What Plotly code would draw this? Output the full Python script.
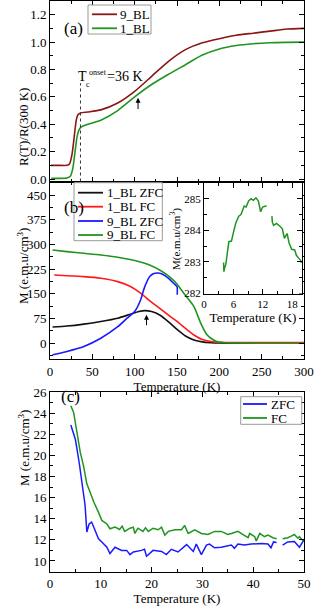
import plotly.graph_objects as go

# ---------------- data ----------------
# panel (a): R(T)/R(300 K)
T_a9 = [1.5, 10, 20, 23, 26, 29, 31, 33, 36, 45, 60, 80, 100, 120, 140, 160, 180, 200, 220, 240, 260, 280, 300]
R_a9 = [0.10, 0.10, 0.10, 0.11, 0.18, 0.33, 0.43, 0.47, 0.483, 0.49, 0.505, 0.555, 0.64, 0.75, 0.86, 0.945, 0.995, 1.025, 1.05, 1.065, 1.08, 1.095, 1.10]
T_a1 = [1.5, 10, 20, 24, 27, 30, 32, 34, 37, 45, 60, 80, 100, 120, 140, 160, 180, 200, 220, 240, 260, 280, 300]
R_a1 = [0.005, 0.005, 0.008, 0.02, 0.08, 0.22, 0.31, 0.355, 0.38, 0.40, 0.43, 0.50, 0.60, 0.69, 0.765, 0.835, 0.905, 0.95, 0.975, 0.988, 0.995, 0.998, 1.0]
TC_ONSET = 36

# panel (b): M(T)
T_b1z = [3, 20, 40, 60, 80, 95, 105, 112, 120, 130, 140, 150, 160, 170, 180, 190, 200, 220, 250, 300]
M_b1z = [49, 52, 58, 66, 76, 88, 96, 99, 96, 85, 65, 42, 22, 10, 4, 1.5, 0.5, 0, 0, 0]
T_b1f = [5, 20, 40, 60, 80, 95, 107, 119, 130, 140, 150, 160, 170, 180, 190, 200, 220, 250, 300]
M_b1f = [207, 205, 202, 197, 187, 172, 152, 126, 105, 85, 66, 45, 25, 11, 5, 3, 2, 2, 2]
T_b9z = [3, 20, 40, 60, 80, 91, 100, 107, 111, 115, 118, 122, 128, 134, 140, 146, 150, 150.3]
M_b9z = [-35, -25, -10, 15, 50, 76, 96, 131, 165, 190, 203, 211, 213, 208, 197, 182, 172, 147]
T_b9f = [3, 20, 40, 60, 80, 100, 119, 131, 142, 150, 155, 160, 170, 178, 185, 190, 197, 205, 217, 250, 300]
M_b9f = [283, 278, 273, 268, 261, 251, 236, 220, 200, 180, 162, 145, 111, 61, 27, 15, 5, 2, 0.5, 0, 0]

# inset of (b): 9_BL FC at low T
T_in = [4.0, 4.06, 4.2, 4.46, 5.07, 5.6, 6.0, 6.5, 7.1, 7.55, 8.2, 8.6, 9.1, 9.6, 10.1, 10.6, 11.1, 11.55, 11.96, 12.43, 12.77,
        None,
        13.86, 13.95, 14.2, 14.8, 15.5, 16.0, 16.4, 16.96, 17.37, 17.9, 18.5, 18.86, 19.3, 19.7, 19.9]
M_in = [282.98, 282.69, 282.8, 282.93, 283.64, 283.66, 283.93, 284.24, 284.45, 284.5, 284.77, 284.74, 284.93, 285.0, 284.95, 285.03, 284.93, 284.59, 284.74, 284.77, 284.78,
        None,
        284.45, 284.26, 284.16, 284.22, 284.13, 284.05, 283.75, 283.9, 283.6, 283.4, 283.38, 283.21, 283.12, 283.05, 282.97]

# panel (c)
T_cz = [4.1, 5.0, 5.75, 6.4, 6.9, 7.25, 7.7, 8.2, 8.9, 9.55, 10.2, 11.2, 11.8, 12.8, 14.1, 15.1, 15.75, 16.4, 18.0, 18.6, 19.0, 19.6, 20.3,
        21.96, 22.9, 23.9, 25.2, 26.9, 28.2, 28.8, 29.8, 30.8, 31.4, 32.4, 33.7, 35.7, 36.3, 37.0, 38.3, 39.6, 41.6, 42.9, 43.5, 44.0, 44.6,
        None, 45.8, 46.8, 48.1, 49.1, 50.0]
M_cz = [22.87, 21.5, 19.3, 17.1, 15.3, 12.74, 13.5, 13.68, 12.9, 12.1, 11.8, 11.3, 10.7, 11.3, 11.0, 11.0, 10.6, 10.85, 11.0, 11.1, 10.45, 10.7, 11.0,
        10.9, 10.6, 11.1, 10.85, 11.55, 10.9, 11.6, 10.6, 11.5, 11.6, 11.25, 11.3, 11.5, 11.2, 11.6, 11.5, 11.6, 11.65, 11.6, 11.25, 11.8, 11.75,
        None, 11.5, 11.8, 11.85, 11.3, 12.0]
T_cf = [4.1, 4.65, 5.3, 5.95, 6.6, 7.25, 7.9, 8.6, 9.55, 10.2, 11.2, 11.8, 12.8, 13.7, 14.2, 14.7, 15.75, 16.4, 16.7, 17.3, 18.3, 18.8, 19.35,
        20.3, 21.3, 21.96, 22.6, 23.3, 24.6, 25.9, 26.5, 27.2, 28.5, 29.8, 31.1, 32.4, 33.7, 35.0, 35.7, 37.0, 38.0, 39.0, 39.3, 40.3, 40.6,
        41.3, 42.2, 42.9, 43.9, 44.6, None, 45.8, 46.8, 47.5, 48.1, 48.8, 49.1, 49.8]
M_cf = [24.7, 24.06, 22.2, 20.3, 19.0, 17.3, 16.5, 15.6, 14.6, 13.84, 13.5, 13.05, 13.2, 12.98, 13.3, 12.8, 13.1, 13.2, 12.6, 13.1, 12.8, 13.15, 12.8,
        13.1, 12.95, 13.2, 12.45, 12.8, 12.95, 12.95, 13.37, 12.6, 12.95, 12.6, 12.5, 12.8, 12.8, 12.5, 12.6, 12.8, 12.5, 12.2, 12.6, 12.3, 11.9,
        12.6, 12.3, 12.45, 12.2, 12.1, None, 12.1, 12.2, 12.35, 12.5, 12.15, 12.3, 11.9]

# legends
LEG_A = ["9_BL", "1_BL"]
LEG_B = ["1_BL ZFC", "1_BL FC", "9_BL ZFC", "9_BL FC"]
LEG_C = ["ZFC", "FC"]

DARKRED = "#8c1515"
GREEN = "#1f951f"
RED = "#ff1a1a"
BLUE = "#1a1aff"
BLACK = "#111111"
FONT = "Liberation Serif"

W, H = 316, 606
def px(x):
    return x / W
def py(y):
    return 1 - y / H

fig = go.Figure()

def line(x, y, color, xa, ya, w=1.6, smooth=True):
    fig.add_trace(go.Scatter(
        x=x, y=y, mode="lines", xaxis=xa, yaxis=ya, showlegend=False,
        connectgaps=False, hoverinfo="skip",
        line=dict(color=color, width=w, shape="spline" if smooth else "linear", smoothing=0.6 if smooth else None)))

# (a)
line(T_a9, R_a9, DARKRED, "x", "y")
line(T_a1, R_a1, GREEN, "x", "y")
# (b)
line(T_b1z, M_b1z, BLACK, "x2", "y2")
line(T_b1f, M_b1f, RED, "x2", "y2")
line(T_b9z, M_b9z, BLUE, "x2", "y2")
line(T_b9f, M_b9f, GREEN, "x2", "y2")
# inset
line(T_in, M_in, GREEN, "x4", "y4", w=1.5, smooth=False)
# (c)
line(T_cz, M_cz, BLUE, "x3", "y3", w=1.5, smooth=False)
line(T_cf, M_cf, GREEN, "x3", "y3", w=1.5, smooth=False)

XD = [px(50), px(304)]
common = dict(showline=True, linecolor="black", linewidth=1, mirror="ticks", ticks="inside",
              ticklen=5, tickcolor="black", showgrid=False, zeroline=False,
              tickfont=dict(family=FONT, size=13, color="black"), automargin=False)
minor = dict(ticks="inside", ticklen=3, tickcolor="black", showgrid=False)
small_tick = {**common, "tickfont": dict(family=FONT, size=11, color="black")}

title_font = dict(family=FONT, size=13, color="black")

fig.update_layout(
    width=W, height=H, margin=dict(l=0, r=0, t=0, b=0),
    paper_bgcolor="white", plot_bgcolor="white",
    font=dict(family=FONT, size=13, color="black"),
    showlegend=False,
    xaxis=dict(domain=XD, anchor="y", range=[0, 300], dtick=50, tick0=0, showticklabels=False,
               minor=dict(dtick=25, **minor), **common),
    yaxis=dict(domain=[py(181.5), py(1)], anchor="x", range=[-0.018, 1.3], dtick=0.2, tick0=0,
               tickformat=".1f", minor=dict(dtick=0.1, **minor), **common),
    xaxis2=dict(domain=XD, anchor="y2", range=[0, 300], dtick=50, tick0=0,
                title=dict(text="Temperature (K)", font=title_font, standoff=4),
                minor=dict(dtick=25, **minor), **common),
    yaxis2=dict(domain=[py(359), py(181.5)], anchor="x2", range=[-48, 491], dtick=75, tick0=0,
                minor=dict(dtick=37.5, **minor), **common),
    xaxis3=dict(domain=XD, anchor="y3", range=[0, 50], dtick=10, tick0=0,
                title=dict(text="Temperature (K)", font=title_font, standoff=4),
                minor=dict(dtick=5, **minor), **common),
    yaxis3=dict(domain=[py(571.5), py(392)], anchor="x3", range=[9, 26], dtick=2, tick0=0,
                minor=dict(dtick=1, **minor), **common),
    xaxis4=dict(domain=[px(204), px(302)], anchor="y4", range=[0, 20], dtick=6, tick0=0,
                title=dict(text="Temperature (K)", font=title_font, standoff=3),
                minor=dict(dtick=3, **minor), **small_tick),
    yaxis4=dict(domain=[py(293.5), py(183)], anchor="x4", range=[282, 285.5], dtick=1, tick0=0,
                minor=dict(dtick=0.5, **minor), **small_tick),
)

shapes = []
annos = []

# dashed T_c onset line
shapes.append(dict(type="line", xref="x", yref="y", x0=TC_ONSET, x1=TC_ONSET, y0=-0.018, y1=0.70,
                   line=dict(color="#333333", width=1, dash="dot")))

# T_c annotation
annos += [
    dict(xref="x", yref="y", x=38.8, y=0.752, text="T", showarrow=False, font=dict(family=FONT, size=14)),
    dict(xref="x", yref="y", x=44.5, y=0.69, text="c", showarrow=False, font=dict(family=FONT, size=8)),
    dict(xref="x", yref="y", x=56.5, y=0.778, text="onset", showarrow=False, font=dict(family=FONT, size=8)),
    dict(xref="x", yref="y", x=88, y=0.748, text="=36 K", showarrow=False, font=dict(family=FONT, size=14)),
]
# arrows
annos.append(dict(xref="x", yref="y", axref="x", ayref="y", x=104, y=0.593, ax=104, ay=0.50, text="",
                  showarrow=True, arrowhead=2, arrowsize=1, arrowwidth=1, arrowcolor="black"))
annos.append(dict(xref="x2", yref="y2", axref="x2", ayref="y2", x=114, y=86, ax=114, ay=50, text="",
                  showarrow=True, arrowhead=2, arrowsize=1, arrowwidth=1, arrowcolor="black"))

# panel labels
for txt, x, y in [("(a)", 62, 17.5), ("(b)", 61.5, 196), ("(c)", 59, 408)]:
    annos.append(dict(xref="paper", yref="paper", x=px(x), y=py(y), text=txt, showarrow=False,
                      font=dict(family=FONT, size=17)))

# y titles
for txt, x, y, s in [("R(T)/R(300 K)", 14, 86.5, 13), ("M (e.m.u/cm<sup>3</sup>)", 13, 266, 13),
                     ("M (e.m.u/cm<sup>3</sup>)", 14, 488, 13), ("M(e.m.u/cm<sup>3</sup>)", 175, 239, 11)]:
    annos.append(dict(xref="paper", yref="paper", x=px(x), y=py(y), text=txt, showarrow=False,
                      textangle=-90, font=dict(family=FONT, size=s)))

# manual legends
def legend(box, labels, colors, rows, lx0, lx1, tx):
    x0, y0, x1, y1 = box
    shapes.append(dict(type="rect", xref="paper", yref="paper", x0=px(x0), x1=px(x1), y0=py(y1), y1=py(y0),
                       line=dict(color="#9a9a9a", width=1), fillcolor="white", layer="above"))
    for lab, col, ry in zip(labels, colors, rows):
        shapes.append(dict(type="line", xref="paper", yref="paper", x0=px(lx0), x1=px(lx1), y0=py(ry), y1=py(ry),
                           line=dict(color=col, width=1.8), layer="above"))
        annos.append(dict(xref="paper", yref="paper", x=px(tx), y=py(ry), xanchor="left", yanchor="middle",
                          text=lab, showarrow=False, borderpad=0,
                          font=dict(family=FONT, size=13)))

legend((88, 5, 151, 34), LEG_A, [DARKRED, GREEN], [14.3, 28.3], 92, 117, 119)
legend((74, 182.7, 162.3, 240.7), LEG_B, [BLACK, RED, BLUE, GREEN], [192.7, 206.7, 221, 235], 78, 103, 106)
legend((240.7, 396.7, 301.7, 424.3), LEG_C, [BLUE, GREEN], [404, 418], 243, 267, 270)

fig.update_layout(shapes=shapes, annotations=annos)
fig.write_html("out.html",
               config={"displayModeBar": False, "staticPlot": True},
               post_script="document.body.style.margin='0';document.body.style.padding='0';"
                           "document.documentElement.style.overflow='hidden';")
